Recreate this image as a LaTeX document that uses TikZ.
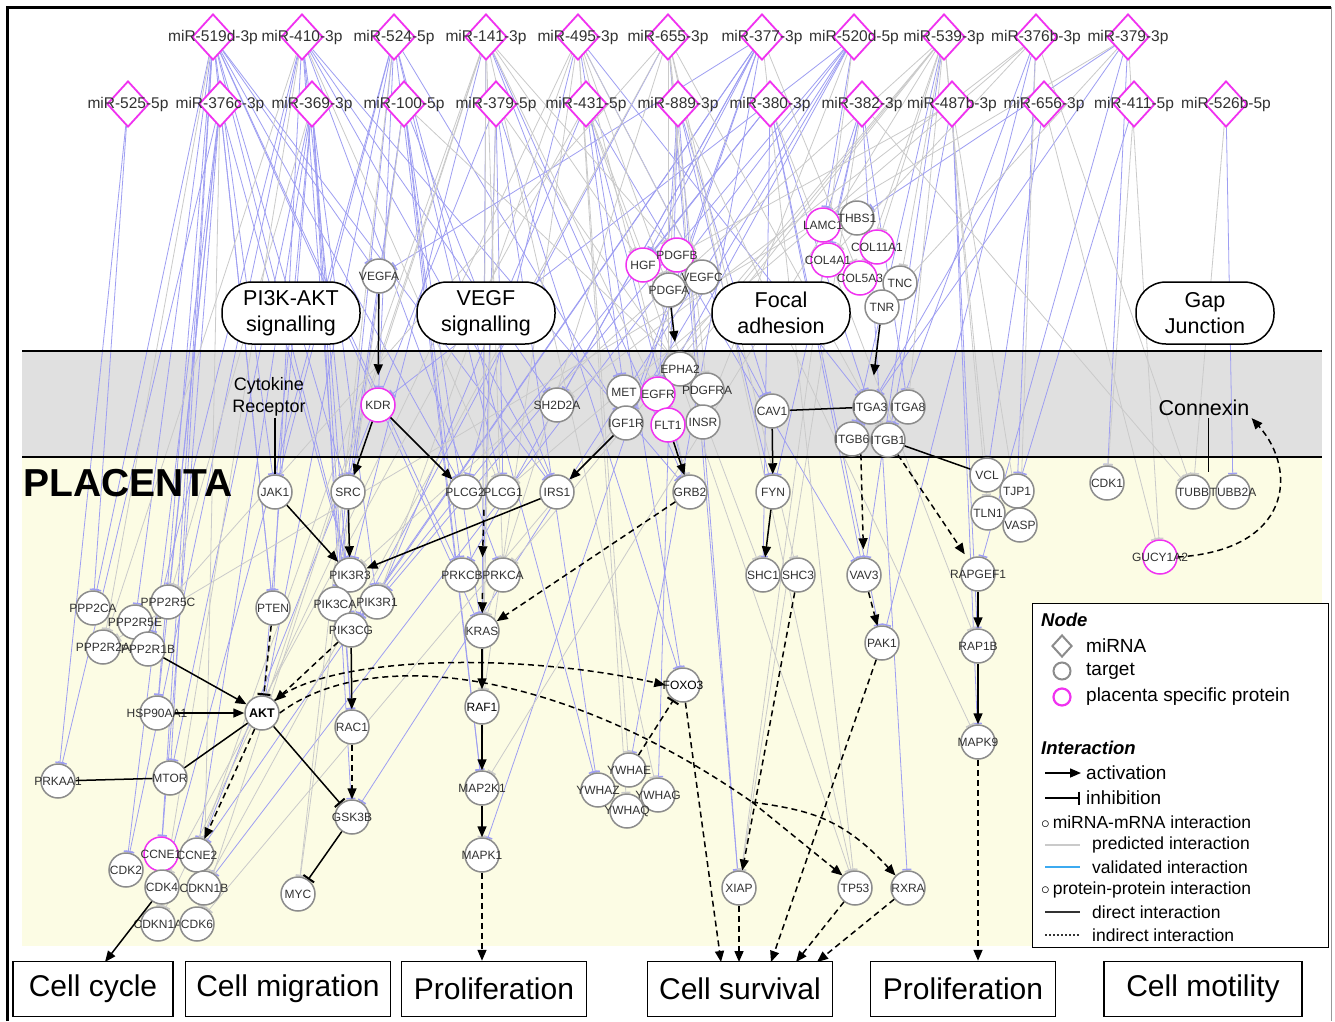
\documentclass[tikz,border=0pt]{standalone}
\usepackage{fontspec}
\setmainfont{Liberation Sans}
\usetikzlibrary{arrows.meta,shapes.geometric,calc}
\pgfdeclarelayer{bg}
\pgfdeclarelayer{edges}
\pgfsetlayers{bg,edges,main}
\definecolor{cream}{RGB}{252,252,228}
\definecolor{band}{RGB}{224,224,224}
\definecolor{pmag}{RGB}{240,50,240}
\definecolor{tgrey}{RGB}{140,140,140}
\definecolor{eblue}{RGB}{158,158,242}
\definecolor{egrey}{RGB}{202,202,202}
\definecolor{txt}{RGB}{50,50,50}
\definecolor{vblue}{RGB}{60,170,240}
\begin{document}
\begin{tikzpicture}[x=1pt,y=-1pt,
  lbl/.style={font=\fontsize{12}{12}\selectfont,text=txt,inner sep=0pt},
  tg/.style={circle,draw=tgrey,line width=1.5pt,fill=white,minimum size=34pt,inner sep=0pt,label={[lbl]center:#1}},
  pl/.style={tg=#1,draw=pmag},
  mlbl/.style={font=\fontsize{15.5}{15.5}\selectfont,text=txt,inner sep=0pt},
  mir/.style={diamond,draw=pmag,line width=1.8pt,fill=white,minimum width=42pt,minimum height=46pt,inner sep=0pt,label={[mlbl]center:#1}},
  pw/.style={draw,line width=1.5pt,fill=white,rounded corners=30pt,minimum width=138pt,minimum height=62pt,align=center,font=\fontsize{21.5}{26}\selectfont},
  ob/.style={draw,line width=1.5pt,fill=white,minimum height=55pt,font=\fontsize{30}{30}\selectfont},
  eb/.style={draw=eblue,line width=0.8pt,-{Bar[width=9pt,line width=1.5pt]}},
  eg/.style={draw=egrey,line width=0.8pt,-{Bar[width=9pt,line width=1.5pt]}},
  act/.style={draw=black,line width=1.5pt,-{Triangle[length=11pt,width=9pt]}},
  inh/.style={draw=black,line width=1.5pt,-{Bar[width=13pt,line width=2pt]}},
  ind/.style={dash pattern=on 6pt off 4pt},
  dl/.style={draw=black,line width=1.5pt},
  lg/.style={anchor=west,inner sep=0pt,font=\fontsize{19}{19}\selectfont},
  lgs/.style={anchor=west,inner sep=0pt,font=\fontsize{17.5}{17.5}\selectfont},
  lgh/.style={anchor=west,inner sep=0pt,font=\bfseries\itshape\fontsize{18.5}{18.5}\selectfont}
]
\useasboundingbox (0,0) rectangle (1335,1021);
\begin{pgfonlayer}{bg}
  \fill[white] (0,0) rectangle (1335,1021);
  \fill[cream] (22,457) rectangle (1322,946);
  \fill[band] (22,351) rectangle (1322,457);
\end{pgfonlayer}

% miRNA nodes
\foreach \i/\x/\t in {1/213/miR-519d-3p,2/302/miR-410-3p,3/394/miR-524-5p,4/486/miR-141-3p,5/578/miR-495-3p,6/668/miR-655-3p,7/762/miR-377-3p,8/854/miR-520d-5p,9/944/miR-539-3p,10/1036/miR-376b-3p,11/1128/miR-379-3p}
  \node[mir=\t] (m\i) at (\x,37) {};
\foreach \i/\x/\t in {1/128/miR-525-5p,2/220/miR-376c-3p,3/312/miR-369-3p,4/404/miR-100-5p,5/496/miR-379-5p,6/586/miR-431-5p,7/678/miR-889-3p,8/770/miR-380-3p,9/862/miR-382-3p,10/952/miR-487b-3p,11/1044/miR-656-3p,12/1134/miR-411-5p,13/1226/miR-526b-5p}
  \node[mir=\t] (n\i) at (\x,104) {};

% target nodes
\node[tg=VEGFA] (VEGFA) at (379,276) {};
\node[pl=HGF] (HGF) at (643,265) {};
\node[pl=PDGFB] (PDGFB) at (677,255) {};
\node[tg=VEGFC] (VEGFC) at (702,277) {};
\node[tg=PDGFA] (PDGFA) at (669,290) {};
\node[pl=LAMC1] (LAMC1) at (823,225) {};
\node[tg=THBS1] (THBS1) at (857,218) {};
\node[pl=COL11A1] (COL11A1) at (877,247) {};
\node[pl=COL4A1] (COL4A1) at (828,260) {};
\node[pl=COL5A3] (COL5A3) at (860,278) {};
\node[tg=TNC] (TNC) at (900,283) {};
\node[tg=TNR] (TNR) at (882,307) {};
\node[pl=KDR] (KDR) at (378,405) {};
\node[tg=SH2D2A] (SH2D2A) at (557,405) {};
\node[tg=EPHA2] (EPHA2) at (680,369) {};
\node[tg=MET] (MET) at (624,392) {};
\node[tg=PDGFRA] (PDGFRA) at (707,390) {};
\node[pl=EGFR] (EGFR) at (658,394) {};
\node[tg=IGF1R] (IGF1R) at (626,423) {};
\node[tg=INSR] (INSR) at (703,422) {};
\node[pl=FLT1] (FLT1) at (668,425) {};
\node[tg=CAV1] (CAV1) at (772,411) {};
\node[tg=ITGA3] (ITGA3) at (870,407) {};
\node[tg=ITGA8] (ITGA8) at (908,407) {};
\node[tg=ITGB6] (ITGB6) at (852,439) {};
\node[tg=ITGB1] (ITGB1) at (888,440) {};
\node[tg=JAK1] (JAK1) at (275,492) {};
\node[tg=SRC] (SRC) at (348,492) {};
\node[tg=PLCG2] (PLCG2) at (465,492) {};
\node[tg=PLCG1] (PLCG1) at (503,492) {};
\node[tg=IRS1] (IRS1) at (557,492) {};
\node[tg=GRB2] (GRB2) at (690,492) {};
\node[tg=FYN] (FYN) at (773,492) {};
\node[tg=VCL] (VCL) at (987,475) {};
\node[tg=TJP1] (TJP1) at (1017,491) {};
\node[tg=TLN1] (TLN1) at (988,513) {};
\node[tg=VASP] (VASP) at (1020,525) {};
\node[tg=CDK1] (CDK1) at (1107,483) {};
\node[tg=TUBB] (TUBB) at (1193,492) {};
\node[tg=TUBB2A] (TUBB2A) at (1233,492) {};
\node[pl=GUCY1A2] (GUCY1A2) at (1160,557) {};
\node[tg=PIK3R3] (PIK3R3) at (350,575) {};
\node[tg=PIK3CA] (PIK3CA) at (335,604) {};
\node[tg=PIK3R1] (PIK3R1) at (377,602) {};
\node[tg=PIK3CG] (PIK3CG) at (351,630) {};
\node[tg=PRKCB] (PRKCB) at (462,575) {};
\node[tg=PRKCA] (PRKCA) at (503,575) {};
\node[tg=SHC1] (SHC1) at (763,575) {};
\node[tg=SHC3] (SHC3) at (798,575) {};
\node[tg=VAV3] (VAV3) at (864,575) {};
\node[tg=RAPGEF1] (RAPGEF1) at (978,574) {};
\node[tg=PPP2CA] (PPP2CA) at (93,608) {};
\node[tg=PPP2R5C] (PPP2R5C) at (168,602) {};
\node[tg=PPP2R5E] (PPP2R5E) at (135,622) {};
\node[tg=PPP2R2A] (PPP2R2A) at (103,647) {};
\node[tg=PPP2R1B] (PPP2R1B) at (148,649) {};
\node[tg=PTEN] (PTEN) at (273,608) {};
\node[tg=KRAS] (KRAS) at (482,631) {};
\node[circle,draw=tgrey,line width=1.5pt,fill=white,minimum size=34pt,inner sep=0pt,label={[lbl,text=black]center:FOXO3}] (FOXO3) at (683,685) {};
\node[tg=PAK1] (PAK1) at (882,643) {};
\node[tg=RAP1B] (RAP1B) at (978,646) {};
\node[tg=HSP90AA1] (HSP90AA1) at (157,713) {};
\node[circle,draw=tgrey,line width=1.5pt,fill=white,minimum size=34pt,inner sep=0pt,label={[lbl,text=black,font=\bfseries\fontsize{12.5}{12.5}\selectfont]center:AKT}] (AKT) at (262,713) {};
\node[circle,draw=tgrey,line width=1.5pt,fill=white,minimum size=34pt,inner sep=0pt,label={[lbl,text=black]center:RAF1}] (RAF1) at (482,707) {};
\node[tg=RAC1] (RAC1) at (352,727) {};
\node[tg=PRKAA1] (PRKAA1) at (58,781) {};
\node[tg=MTOR] (MTOR) at (170,778) {};
\node[tg=MAPK9] (MAPK9) at (978,742) {};
\node[tg=YWHAE] (YWHAE) at (629,770) {};
\node[tg=YWHAZ] (YWHAZ) at (598,790) {};
\node[tg=YWHAG] (YWHAG) at (658,795) {};
\node[tg=YWHAQ] (YWHAQ) at (627,811) {};
\node[tg=MAP2K1] (MAP2K1) at (482,788) {};
\node[tg=GSK3B] (GSK3B) at (352,817) {};
\node[pl=CCNE1] (CCNE1) at (161,854) {};
\node[tg=CCNE2] (CCNE2) at (197,855) {};
\node[tg=CDK2] (CDK2) at (126,870) {};
\node[tg=CDK4] (CDK4) at (162,887) {};
\node[tg=CDKN1B] (CDKN1B) at (204,888) {};
\node[tg=MYC] (MYC) at (298,894) {};
\node[tg=CDKN1A] (CDKN1A) at (158,924) {};
\node[tg=CDK6] (CDK6) at (197,924) {};
\node[tg=MAPK1] (MAPK1) at (482,855) {};
\node[tg=XIAP] (XIAP) at (739,888) {};
\node[tg=TP53] (TP53) at (855,888) {};
\node[tg=RXRA] (RXRA) at (908,888) {};

% miRNA-mRNA edges
\begin{pgfonlayer}{edges}
\foreach \a/\b in {m1/PPP2CA,m1/PPP2R5E,m1/PTEN,m1/JAK1,m1/PIK3R3,m1/MTOR,m1/HSP90AA1,m1/SRC,m1/PLCG2,m1/KRAS,m1/CCNE1,m1/VEGFA,m1/PRKCB,m1/IRS1,
  m2/PPP2R1B,m2/PTEN,m2/PIK3R1,m2/SRC,m2/IRS1,m2/PRKCA,m2/CDK2,m2/RAC1,m2/SH2D2A,m2/GRB2,
  m3/JAK1,m3/PIK3CA,m3/PLCG1,m3/MAP2K1,m3/KDR,m3/CDK4,m3/AKT,m3/YWHAZ,m3/IGF1R,
  m4/KRAS,m4/GRB2,m4/PIK3R3,m4/MET,
  m5/CAV1,m5/ITGA3,m5/FOXO3,m5/PLCG2,
  m6/XIAP,m6/PIK3CG,
  m7/SH2D2A,m7/HGF,m7/PIK3CG,m7/YWHAE,m7/CCNE2,m7/MAPK1,m7/VEGFA,m7/IGF1R,m7/PRKCB,
  m8/KDR,m8/IGF1R,m8/EGFR,m8/LAMC1,m8/PIK3R1,m8/GSK3B,m8/CDKN1B,
  m9/ITGB6,m9/VAV3,
  m10/ITGB1,m10/PAK1,m10/TJP1,
  m11/THBS1,m11/RAPGEF1,m11/CDK1,m11/ITGA3,
  n1/PPP2CA,n1/PRKAA1,
  n2/PPP2R5C,n2/CDK2,n2/PIK3R3,n2/PTEN,n2/CCNE1,n2/HSP90AA1,n2/PRKAA1,
  n3/AKT,n3/MTOR,n3/RAC1,n3/PIK3CG,n3/GSK3B,n3/CCNE2,n3/JAK1,
  n4/KRAS,n4/IRS1,n4/PRKCB,n4/SRC,n4/MAP2K1,n4/PIK3CA,
  n5/YWHAZ,n5/FOXO3,n5/PLCG1,n5/KRAS,n5/CCNE2,
  n6/GRB2,n6/MET,n6/PIK3R1,n6/VAV3,
  n7/EGFR,n7/XIAP,n7/YWHAG,n7/CAV1,n7/FYN,
  n8/ITGA3,n8/SHC1,n8/PAK1,n8/VAV3,n8/HGF,n8/PIK3CG,
  n9/LAMC1,n9/COL4A1,n9/ITGA8,n9/RXRA,n9/FYN,
  n10/ITGB1,n10/RAP1B,n10/MAPK9,
  n11/ITGB6,n11/VCL,
  n12/TJP1,n13/TUBB2A}
  \draw[eb] (\a) -- (\b);
\foreach \a/\b in {m4/HGF,m4/PDGFB,m4/EGFR,m4/PRKCA,m4/YWHAG,m4/CDK6,m4/MAPK1,m4/CCNE2,m4/AKT,
  m5/PDGFA,m5/VEGFC,m5/GRB2,m5/YWHAQ,m5/CDKN1A,m5/PIK3R1,m5/RAF1,
  m6/INSR,m6/FLT1,m6/PDGFRA,m6/TP53,m6/SHC3,m6/CDKN1B,m6/KRAS,m6/PPP2R5C,
  m9/COL11A1,m9/TNC,m9/COL5A3,m9/ITGA8,m9/VCL,m9/TLN1,m9/PIK3R3,m9/PRKCA,m9/MAP2K1,m9/CDK6,
  m10/TUBB,m10/VASP,m10/COL4A1,m10/PLCG1,m10/SH2D2A,
  m11/GUCY1A2,m11/TNR,m11/PPP2R2A,
  m2/PPP2R2A,m2/PLCG1,m2/CDKN1A,
  n4/PDGFRA,n5/EPHA2,n5/RAF1,n6/SHC1,n6/TP53,n7/PDGFA,n7/MAPK9,n8/RAP1B,n9/TUBB,n9/XIAP,
  n10/VASP,n10/PDGFB,n3/PPP2R5C,n2/CDKN1B,n11/GUCY1A2,n12/CDK1,n13/TUBB,m7/COL5A3,m8/INSR,
  m1/PPP2R2A,m3/MYC,n4/MYC,n6/CDK4,m9/EPHA2,m6/ITGB1,m7/TP53,m8/XIAP,m5/YWHAE}
  \draw[eg] (\a) -- (\b);
\draw[line width=2.6pt] (22,351) -- (1322,351);
\draw[line width=2.6pt] (22,457) -- (1322,457);
\end{pgfonlayer}

% pathway ovals and texts
\node[pw] (pi3k) at (291,313) {PI3K-AKT\\signalling};
\node[pw] (vegf) at (486,313) {VEGF\\signalling};
\node[pw] (focal) at (781,313) {Focal\\adhesion};
\node[pw] (gap) at (1205,313) {Gap\\Junction};
\node[font=\fontsize{18}{22}\selectfont,align=center,inner sep=1pt] (cyto) at (269,397) {Cytokine\\Receptor};
\node[font=\fontsize{21.5}{21.5}\selectfont,inner sep=2pt] (cnx) at (1204,408) {Connexin};
\node[font=\bfseries\fontsize{39}{39}\selectfont,anchor=west,inner sep=0pt] (plac) at (23,483) {PLACENTA};

% outcome boxes
\node[ob,minimum width=160pt] (o1) at (93,989) {Cell cycle};
\node[ob,minimum width=205pt] (o2) at (288,989) {Cell migration};
\node[ob,minimum width=185pt] (o3) at (494,989) {Proliferation};
\node[ob,minimum width=185pt] (o4) at (740,989) {Cell survival};
\node[ob,minimum width=185pt] (o5) at (963,989) {Proliferation};
\node[ob,minimum width=198pt] (o6) at (1203,989) {Cell motility};

\coordinate (pdr) at (675,342);
\coordinate (cxe) at (1208,472);
\coordinate (cc) at (105,962);
\coordinate (cs1) at (721,962);
\coordinate (cs2) at (739,962);
\coordinate (cs3) at (771,962);
\coordinate (cs4) at (796,962);
\coordinate (cs5) at (817,962);
\coordinate (split) at (752,802);

% black interactions
\draw[act,shorten >=12pt] (VEGFA) -- (KDR);
\draw[act] (PDGFA) -- (pdr);
\draw[act,shorten >=14pt] (TNR) -- (ITGA3);
\draw[dl] (cyto.south -| JAK1) -- (JAK1);
\draw[act] (KDR) -- (SRC);
\draw[act] (KDR) -- (PLCG2);
\draw[act] (IGF1R) -- (IRS1);
\draw[act] (FLT1) -- (GRB2);
\draw[act] (CAV1) -- (FYN);
\draw[dl] (CAV1) -- (ITGA3);
\draw[act,ind,shorten >=8pt] (ITGB6.300) -- (VAV3);
\draw[act,ind,shorten >=6pt] (ITGB1) -- (RAPGEF1);
\draw[dl] (ITGB1) -- (VCL);
\draw[dl,line width=1pt] (cnx.south -| cxe) -- (cxe);
\draw[act,ind] (GUCY1A2.east) .. controls (1292,550) and (1298,470) .. (cnx.south east);
\draw[act] (JAK1) -- (PIK3R3);
\draw[act] (SRC) -- (PIK3R3);
\draw[act] (IRS1) -- (PIK3R3);
\draw[act,ind] ($(PLCG2.south)!0.5!(PLCG1.south)$) -- ($(PRKCB.north)!0.5!(PRKCA.north)$);
\draw[act,ind] ($(PRKCB.south)!0.5!(PRKCA.south)$) -- (KRAS);
\draw[act,ind] (GRB2) -- (KRAS);
\draw[act] (KRAS) -- (RAF1);
\draw[act] (RAF1) -- (MAP2K1);
\draw[act] (MAP2K1) -- (MAPK1);
\draw[act,ind] (MAPK1) -- (MAPK1 |- o3.north);
\draw[inh,ind] (PTEN) -- (AKT);
\draw[act,ind] (PIK3CG) -- (AKT);
\draw[act] (PIK3CG) -- (RAC1);
\draw[act,ind] (RAC1) -- (GSK3B);
\draw[inh] (AKT) -- (GSK3B);
\draw[inh] (GSK3B) -- (MYC);
\draw[act] (PPP2R1B) -- (AKT);
\draw[act] (HSP90AA1) -- (AKT);
\draw[dl] (AKT) -- (MTOR);
\draw[dl] (PRKAA1) -- (MTOR);
\draw[act,ind] (AKT) -- (CCNE2);
\draw[act] (CDK4.235) -- (cc);
\draw[act,ind] (AKT.north east) .. controls (330,655) and (520,652) .. (FOXO3.west);
\draw[dl,ind] (AKT.east) .. controls (370,645) and (560,668) .. (split);
\draw[act,ind] (split) -- (TP53.north west);
\draw[act,ind] (split) .. controls (805,810) and (840,815) .. (RXRA.north west);
\draw[act] (FYN) -- (SHC1);
\draw[act,ind] (VAV3) -- (PAK1);
\draw[act] (RAPGEF1) -- (RAP1B);
\draw[act] (RAP1B) -- (MAPK9);
\draw[act,ind] (MAPK9) -- (MAPK9 |- o5.north);
\draw[act,ind] (SHC3) -- (XIAP);
\draw[inh,ind] (YWHAE) -- (FOXO3);
\draw[act,ind] (FOXO3) -- (cs1);
\draw[act,ind] (XIAP) -- (cs2);
\draw[act,ind] (PAK1) -- (cs3);
\draw[act,ind] (TP53) -- (cs4);
\draw[act,ind] (RXRA) -- (cs5);

% legend
\node[draw=black,line width=1pt,fill=white,minimum width=296pt,minimum height=344pt,anchor=north west,inner sep=0pt] (leg) at (1032,603) {};
\node[lgh] (lh1) at (1041,620) {Node};
\node[diamond,draw=tgrey,line width=2pt,minimum width=20pt,minimum height=22pt,inner sep=0pt] (ld) at (1062,646) {};
\node[lg] (l1) at (1086,646) {miRNA};
\node[circle,draw=tgrey,line width=2pt,minimum size=17pt,inner sep=0pt] (lc1) at (1062,671) {};
\node[lg] (l2) at (1086,671) {target};
\node[circle,draw=pmag,line width=2.2pt,minimum size=17pt,inner sep=0pt] (lc2) at (1062,697) {};
\node[lg] (l3) at (1086,697) {placenta specific protein};
\node[lgh] (lh2) at (1041,748) {Interaction};
\draw[act] (1045,773) -- (1081,773);
\node[lg] (l4) at (1086,773) {activation};
\draw[inh] (1045,798) -- (1080,798);
\node[lg] (l5) at (1086,798) {inhibition};
\node[lgs] (l6) at (1041,822) {$\circ$\,miRNA-mRNA interaction};
\draw[egrey,line width=1.2pt] (1045,845) -- (1080,845);
\node[lgs] (l7) at (1092,845) {predicted interaction};
\draw[vblue,line width=1.2pt] (1045,867) -- (1080,867);
\node[lgs] (l8) at (1092,867) {validated interaction};
\node[lgs] (l9) at (1041,890) {$\circ$\,protein-protein interaction};
\draw[black!80,line width=1.2pt] (1045,912) -- (1080,912);
\node[lgs] (l10) at (1092,912) {direct interaction};
\draw[black!80,line width=1.2pt,dash pattern=on 2pt off 2pt] (1045,935) -- (1080,935);
\node[lgs] (l11) at (1092,935) {indirect interaction};

% frame
\draw[line width=3pt] (7,1021) -- (7,7) -- (1331,7);
\draw[black!40,line width=1pt] (1331,7) -- (1331,1021);
\end{tikzpicture}
\end{document}
